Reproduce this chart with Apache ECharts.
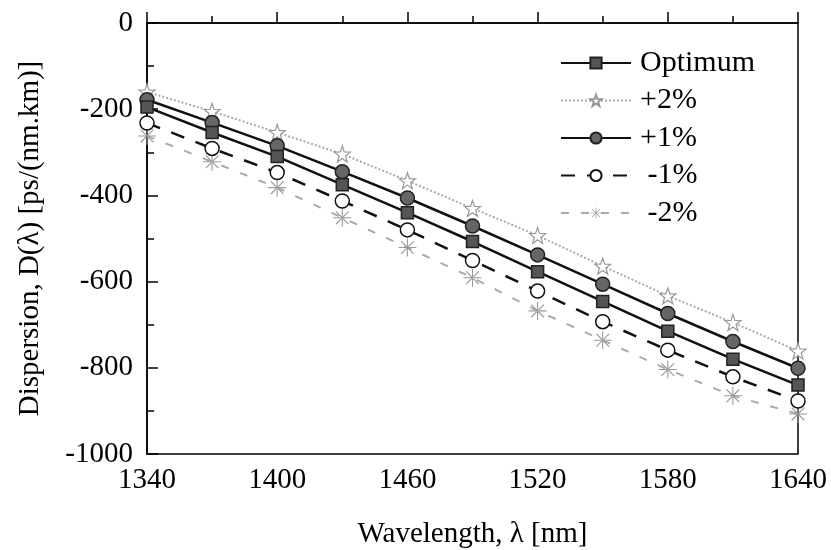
<!DOCTYPE html>
<html>
<head>
<meta charset="utf-8">
<script src="https://cdn.jsdelivr.net/npm/echarts@6/dist/echarts.min.js"></script>
<style>
  html, body { margin: 0; padding: 0; background: #fff; }
  #main { width: 831px; height: 550px; }
</style>
</head>
<body>
<div id="main"></div>
<script>
// wavelength points (nm) and dispersion values ps/(nm.km)
var wavelengths = [1340, 1370, 1400, 1430, 1460, 1490, 1520, 1550, 1580, 1610, 1640];
var optimum = [-195, -254, -310, -375, -440, -507, -577, -646, -715, -780, -840];
var plus2   = [-160, -205, -254, -304, -366, -430, -493, -564, -633, -695, -761];
var plus1   = [-178, -231, -285, -345, -406, -471, -538, -606, -674, -739, -801];
var minus1  = [-232, -291, -347, -413, -480, -551, -622, -693, -759, -821, -877];
var minus2  = [-262, -322, -382, -452, -521, -591, -668, -736, -804, -865, -907];

var seriesNames = ['Optimum', '+2%', '+1%', '-1%', '-2%'];

var starPath = 'path://M0,-10 L2.35,-3.24 L9.51,-3.09 L3.8,1.24 L5.88,8.09 L0,4 L-5.88,8.09 L-3.8,1.24 L-9.51,-3.09 L-2.35,-3.24 Z';
var asteriskPath = 'path://M-0.6,-10 L0.6,-10 L0.6,10 L-0.6,10 Z M-10,-0.6 L10,-0.6 L10,0.6 L-10,0.6 Z M-7.5,-6.6 L-6.6,-7.5 L7.5,6.6 L6.6,7.5 Z M-7.5,6.6 L-6.6,7.5 L7.5,-6.6 L6.6,-7.5 Z';

function pairs(arr) {
    return wavelengths.map(function (w, i) { return [w, arr[i]]; });
}

var fontFam = '"Liberation Serif", "DejaVu Serif", serif';

var chart = echarts.init(document.getElementById('main'));
var option = {
    backgroundColor: '#ffffff',
    animation: false,
    textStyle: { fontFamily: fontFam, color: '#000' },
    grid: {
        left: 147, right: 33, top: 23, bottom: 96,
        outerBoundsMode: 'none',
        show: true, borderColor: '#000', borderWidth: 1.5
    },
    legend: {
        left: 555, top: 43,
        orient: 'vertical',
        itemWidth: 70, itemHeight: 14, itemGap: 7.5,
        data: seriesNames,
        textStyle: { fontFamily: fontFam, fontSize: 30, lineHeight: 30, color: '#000', padding: [0, 0, 0, 4] },
        formatter: function (name) { return name.charAt(0) === '-' ? ' ' + name : name; }
    },
    xAxis: {
        type: 'value',
        min: 1340, max: 1640, interval: 60,
        name: 'Wavelength, \u03bb [nm]',
        nameLocation: 'middle', nameGap: 66,
        nameTextStyle: { fontFamily: fontFam, fontSize: 29, color: '#000' },
        axisLine: { lineStyle: { color: '#000', width: 1.5 } },
        axisTick: { inside: true, length: 11, lineStyle: { color: '#000', width: 1.5 } },
        minorTick: { show: true, splitNumber: 2, length: 7, lineStyle: { color: '#000', width: 1.5 } },
        axisLabel: { fontFamily: fontFam, fontSize: 29, color: '#000', margin: 12, formatter: function (v) { return String(v); } },
        splitLine: { show: false }
    },
    yAxis: {
        type: 'value',
        min: -1000, max: 0, interval: 200,
        name: 'Dispersion, D(\u03bb) [ps/(nm.km)]',
        nameLocation: 'middle', nameGap: 102, nameRotate: 90,
        nameTextStyle: { fontFamily: fontFam, fontSize: 29, color: '#000' },
        axisLine: { lineStyle: { color: '#000', width: 1.5 } },
        axisTick: { inside: true, length: 11, lineStyle: { color: '#000', width: 1.5 } },
        minorTick: { show: true, splitNumber: 2, length: 7, lineStyle: { color: '#000', width: 1.5 } },
        axisLabel: { fontFamily: fontFam, fontSize: 29, color: '#000', margin: 14, formatter: function (v) { return String(v); } },
        splitLine: { show: false }
    },
    series: [
        {
            name: 'Optimum', type: 'line', data: pairs(optimum),
            symbol: 'rect', symbolSize: 12, z: 5,
            lineStyle: { color: '#111', width: 2.5 },
            itemStyle: { color: '#555', borderColor: '#222', borderWidth: 1.5 }
        },
        {
            name: '+2%', type: 'line', data: pairs(plus2),
            symbol: starPath, symbolSize: 16, z: 3,
            lineStyle: { color: '#aaa', width: 2, type: 'dotted' },
            itemStyle: { color: '#fff', borderColor: '#999', borderWidth: 1.2 }
        },
        {
            name: '+1%', type: 'line', data: pairs(plus1),
            symbol: 'circle', symbolSize: 14, z: 4,
            lineStyle: { color: '#111', width: 2.5 },
            itemStyle: { color: '#666', borderColor: '#222', borderWidth: 1.5 }
        },
        {
            name: '-1%', type: 'line', data: pairs(minus1),
            symbol: 'circle', symbolSize: 14, z: 4,
            lineStyle: { color: '#111', width: 2.5, type: [14, 12] },
            itemStyle: { color: '#fff', borderColor: '#111', borderWidth: 1.5 }
        },
        {
            name: '-2%', type: 'line', data: pairs(minus2),
            symbol: asteriskPath, symbolSize: 18, z: 3,
            lineStyle: { color: '#aaa', width: 2, type: [8, 12] },
            itemStyle: { color: '#999' }
        }
    ]
};
chart.setOption(option);
</script>
</body>
</html>
